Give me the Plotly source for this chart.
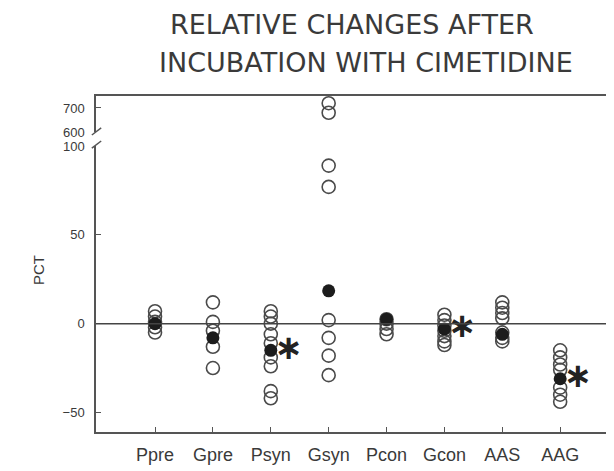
import plotly.graph_objects as go

categories = ["Ppre", "Gpre", "Psyn", "Gsyn", "Pcon", "Gcon", "AAS", "AAG"]

ppre = [7, 4, 1, -2, -5]
gpre = [12, 1, -4, -13, -25]
psyn = [7, 4, 0, -6, -11, -19, -24, -38, -42]
gsyn = [720, 680, 89, 77, 2, -8, -18, -29]
pcon = [2.5, 0, -3, -6]
gcon = [5, 2, -1, -4, -7, -10, -12]
aas = [12, 9, 6, 3, -5, -8, -10]
aag = [-15, -19, -23, -26, -36, -40, -44]

means = [0, -8, -15, 18.5, 2.5, -3, -6, -31]
significant = [False, False, True, False, False, True, False, True]

y_ticks_low = [-50, 0, 50, 100]
y_ticks_high = [600, 700]

values = [ppre, gpre, psyn, gsyn, pcon, gcon, aas, aag]
BREAK = 100

xs_low, ys_low, xs_high, ys_high = [], [], [], []
for i, vals in enumerate(values):
    for v in vals:
        if v > BREAK:
            xs_high.append(i)
            ys_high.append(v)
        else:
            xs_low.append(i)
            ys_low.append(v)

ink = "#3a3a3a"
open_marker = dict(symbol="circle-open", size=13, color="#4a4a4a", line=dict(width=1.6))

fig = go.Figure()
fig.add_trace(go.Scatter(x=xs_low, y=ys_low, mode="markers", marker=open_marker,
                         xaxis="x", yaxis="y", cliponaxis=False, showlegend=False))
fig.add_trace(go.Scatter(x=xs_high, y=ys_high, mode="markers", marker=open_marker,
                         xaxis="x2", yaxis="y2", cliponaxis=False, showlegend=False))
fig.add_trace(go.Scatter(x=list(range(len(categories))), y=means, mode="markers",
                         marker=dict(symbol="circle", size=13, color="#1c1c1c"),
                         xaxis="x", yaxis="y", cliponaxis=False, showlegend=False))
sx = [i + 0.31 for i, s in enumerate(significant) if s]
sy = [means[i] for i, s in enumerate(significant) if s]
fig.add_trace(go.Scatter(x=sx, y=sy, mode="text", text=["\u2217"] * len(sx),
                         textposition="middle center",
                         textfont=dict(family="DejaVu Sans", size=34, color="#222", weight="bold"),
                         xaxis="x", yaxis="y", cliponaxis=False, showlegend=False))

axis_common = dict(showline=True, linecolor="#555", linewidth=1.5, showgrid=False,
                   zeroline=False, ticks="inside", ticklen=5, tickcolor="#555", tickwidth=1.3)

fig.update_layout(
    width=606, height=463,
    margin=dict(l=88, r=0, t=88, b=39),
    paper_bgcolor="white", plot_bgcolor="white",
    font=dict(family="Liberation Sans", color=ink),
    xaxis=dict(domain=[0, 1], range=[-1.02, 7.93], anchor="y",
               tickvals=list(range(len(categories))), ticktext=categories,
               tickfont=dict(size=18), ticklabelstandoff=6, **axis_common),
    xaxis2=dict(matches="x", anchor="y2", side="top", showticklabels=False,
                showline=True, linecolor="#555", linewidth=1.5, showgrid=False,
                zeroline=False, ticks=""),
    yaxis=dict(domain=[0, 0.851], range=[-61, 100], tickvals=y_ticks_low,
               tickfont=dict(size=13), ticklabelstandoff=7, **axis_common),
    yaxis2=dict(domain=[0.893, 1], range=[600, 750], tickvals=y_ticks_high, anchor="x2",
                tickfont=dict(size=13), ticklabelstandoff=7, **axis_common),
)

# horizontal reference line at zero
fig.add_shape(type="line", xref="paper", yref="y", x0=0, x1=1, y0=0, y1=0,
              line=dict(color="#444", width=1.5))

# axis break slashes
for (xa, xb) in [(-0.008, 0.010), (0.992, 1.01)]:
    for (ya, yb) in [(0.884, 0.905), (0.845, 0.866)]:
        fig.add_shape(type="line", xref="paper", yref="paper", x0=xa, x1=xb, y0=ya, y1=yb,
                      line=dict(color="#555", width=1.5))

fig.add_annotation(text="RELATIVE CHANGES AFTER", xref="paper", yref="paper",
                   x=0.494, y=1.214, xanchor="center", yanchor="middle", showarrow=False,
                   font=dict(family="DejaVu Sans", size=27, color=ink))
fig.add_annotation(text="INCUBATION WITH CIMETIDINE", xref="paper", yref="paper",
                   x=0.521, y=1.101, xanchor="center", yanchor="middle", showarrow=False,
                   font=dict(family="DejaVu Sans", size=27, color=ink))
fig.add_annotation(text="PCT", xref="paper", yref="paper", x=-0.112, y=0.482,
                   xanchor="center", yanchor="middle",
                   textangle=-90, showarrow=False, font=dict(size=15, color=ink))

fig.write_html("out.html")
